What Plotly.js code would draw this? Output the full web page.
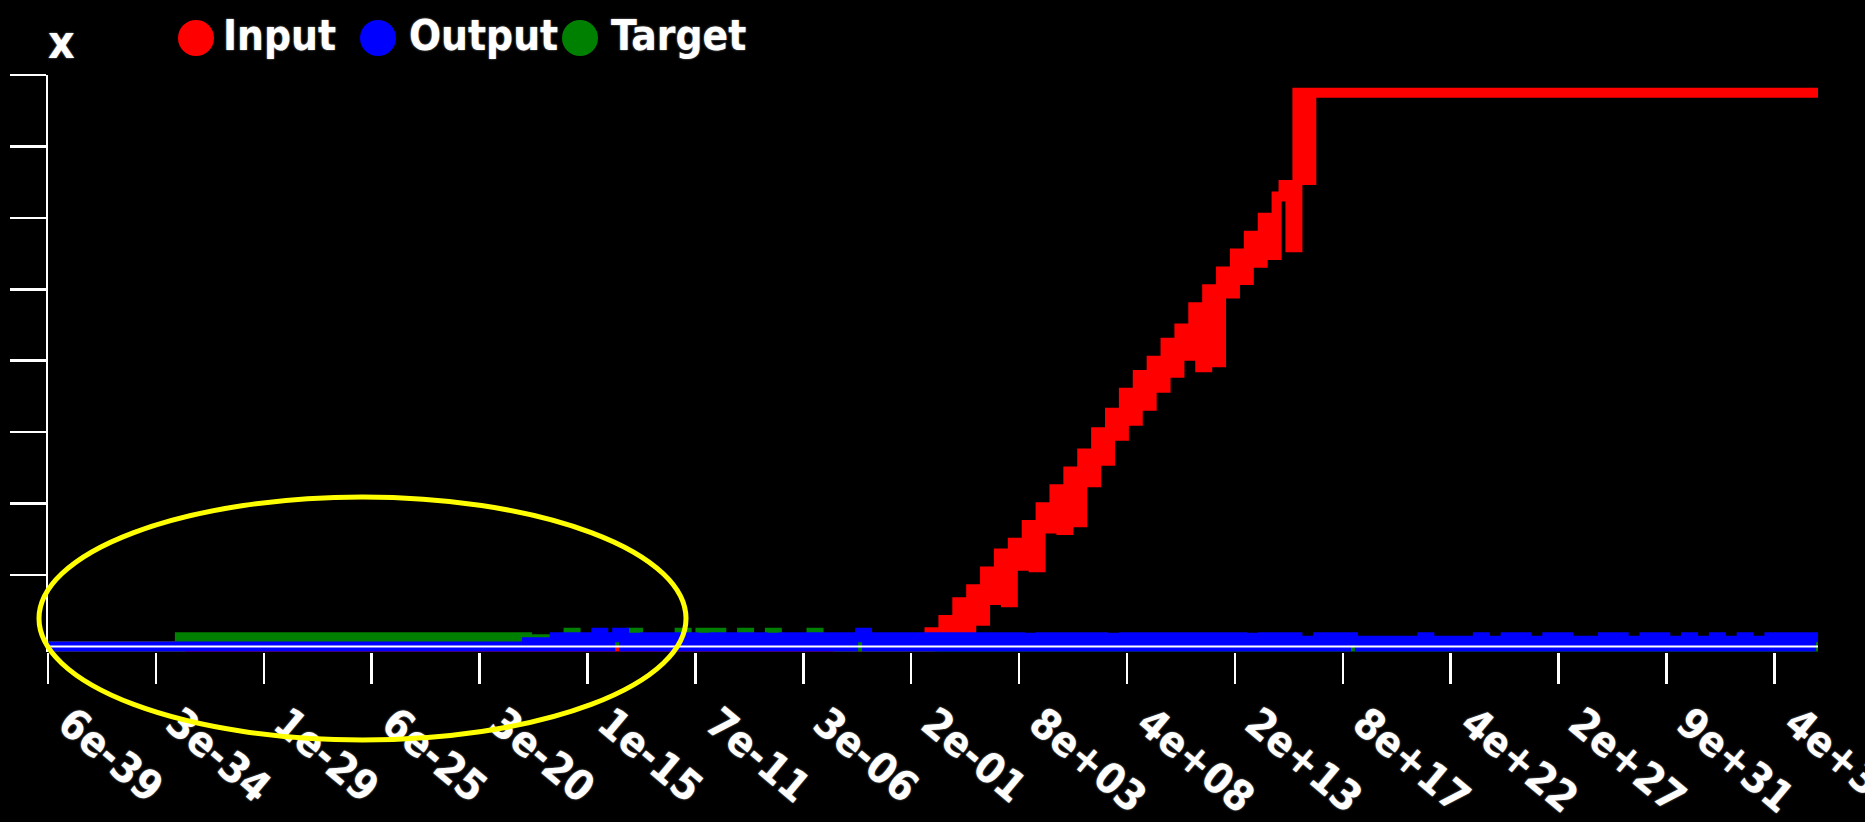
<!DOCTYPE html>
<html><head><meta charset="utf-8">
<script src="https://cdn.plot.ly/plotly-3.0.1.min.js"></script>
<style>html,body{margin:0;padding:0;background:#000;overflow:hidden}#chart{width:1865px;height:822px}</style>
</head><body><div id="chart"></div>
<script>
// ---- bins are float exponents: each point sits at x = 2^exp (log axis) ----
function range(a, b) { var r = []; for (var i = a; i <= b; i++) r.push(i); return r; }

// x-axis ticks (log scale)
var tickVals = [5.877e-39, 2.811e-34, 1.344e-29, 6.425e-25, 3.072e-20, 1.468e-15, 7.02e-11, 3.357e-6,
                0.1605, 7672, 3.667e8, 1.753e13, 8.383e17, 4.008e22, 1.916e27, 9.163e31, 4.38e36];
var tickText = ['6e-39','3e-34','1e-29','6e-25','3e-20','1e-15','7e-11','3e-06',
                '2e-01','8e+03','4e+08','2e+13','8e+17','4e+22','2e+27','9e+31','4e+36'];
var yTickVals = [1, 2, 3, 4, 5, 6, 7, 8];

// Input (red)
var inputExp = [-127].concat(range(0, 55)).concat([128]);
var inputVal = [0,
  0.20, 0.03, 0.37, 0.10, 0.62, 0.20, 0.80, 0.36, 1.05, 0.65,   // 0..9
  1.30, 0.62, 1.45, 1.13, 1.70, 1.11, 1.95, 1.65, 2.20, 1.63,   // 10..19
  2.45, 1.74, 2.70, 2.30, 3.00, 2.60, 3.27, 2.95, 3.55, 3.16,   // 20..29
  3.80, 3.37, 4.00, 3.62, 4.25, 3.83, 4.45, 4.07, 4.75, 3.91,   // 30..39
  5.00, 3.98, 5.25, 4.94, 5.50, 5.13, 5.75, 5.37, 6.00, 5.48,   // 40..49
  6.30, 6.46, 5.59, 7.75, 6.53, 7.75,                           // 50..55
  7.75];

// Output (blue)
var outputExp = [-127].concat(range(-58, 128));
var outputVal = [0,
  0.06, 0, 0.06, 0, 0.13, 0, 0.13, 0, 0.13, 0,          // -58..-49
  0.19, 0, 0.13, 0.19, 0, 0.12, 0, 0.13, 0, 0.13,       // -48..-39
  0, 0.13, 0, 0.13, 0, 0.12, 0, 0.13, 0, 0.13,          // -38..-29
  0, 0.13, 0, 0.13, 0, 0.12, 0, 0.13, 0, 0.13,          // -28..-19
  0, 0.13, 0, 0.13, 0, 0.13, 0, 0.13, 0.19, 0,          // -18..-9
  0.13, 0, 0.13, 0, 0.13, 0, 0.13, 0, 0.13, 0,          // -8..1
  0.13, 0, 0.13, 0, 0.13, 0, 0.13, 0, 0.13, 0,          // 2..11
  0.13, 0, 0.12, 0, 0.13, 0, 0.13, 0, 0.13, 0,          // 12..21
  0.13, 0, 0.13, 0, 0.12, 0, 0.13, 0, 0.13, 0,          // 22..31
  0.13, 0, 0.13, 0, 0.13, 0, 0.13, 0, 0.13, 0,          // 32..41
  0.13, 0, 0.13, 0, 0.12, 0, 0.13, 0, 0.13, 0,          // 42..51
  0.13, 0, 0.08, 0, 0.13, 0, 0.13, 0, 0.13, 0.08,       // 52..61
  0, 0.08, 0, 0.08, 0, 0.08, 0, 0.08, 0, 0.13,          // 62..71
  0, 0.08, 0, 0.08, 0, 0.08, 0, 0.13, 0, 0.08,          // 72..81
  0, 0.13, 0, 0.13, 0, 0.08, 0, 0.13, 0, 0.13,          // 82..91
  0, 0.08, 0, 0.08, 0, 0.13, 0, 0.13, 0, 0.08,          // 92..101
  0, 0.13, 0, 0.13, 0, 0.08, 0, 0.13, 0, 0.08,          // 102..111
  0, 0.13, 0, 0.08, 0, 0.13, 0, 0.08, 0, 0.13,          // 112..121
  0, 0.13, 0, 0.13, 0, 0.13, 0.13];                     // 122..128

// Target (green)
var targetExp = [-127, -108, -104, -103, -92, -91, -87, -86].concat(range(-58, -13)).concat([128]);
var targetVal = [0, 0.13, 0.115, 0.13, 0.115, 0.13, 0.115, 0.13,
  0.10, 0.10, 0.10, 0.10, 0.08, 0.08, 0.19, 0.08, 0.08, 0.08,   // -58..-49
  0.08, 0.08, 0.08, 0.08, 0.08, 0.19, 0.08, 0.08, 0.08, 0.08,   // -48..-39
  0.08, 0.08, 0.19, 0.08, 0.08, 0.19, 0.08, 0.19, 0.08, 0.08,   // -38..-29
  0.08, 0.19, 0.08, 0.08, 0.08, 0.19, 0.08, 0.08, 0.08, 0.08,   // -28..-19
  0.08, 0.19, 0.08, 0.08, 0.08, 0,                              // -18..-13
  0];

var seriesNames = ['Input', 'Output', 'Target'];
var seriesColors = ['#ff0000', '#0000ff', '#008000'];

function toX(exps) { return exps.map(function (e) { return Math.pow(2, e); }); }

var lineStyle = function (c) { return { color: c, width: 10, shape: 'hv' }; };
var traces = [
  { x: toX(inputExp), y: inputVal, name: seriesNames[0], mode: 'lines', line: lineStyle(seriesColors[0]), showlegend: false, hoverinfo: 'skip' },
  { x: toX(targetExp), y: targetVal, name: seriesNames[2], mode: 'lines', line: lineStyle(seriesColors[2]), showlegend: false, hoverinfo: 'skip' },
  { x: toX(outputExp), y: outputVal, name: seriesNames[1], mode: 'lines', line: lineStyle(seriesColors[1]), showlegend: false, hoverinfo: 'skip' }
];

var W = 1865, H = 822, L = 48, R = 47, T = 75, B = 170;
var pw = W - L - R, ph = H - T - B;
function px2x(px) { return (px - L) / pw; }
function py2y(py) { return (H - B - py) / ph; }

var FAM = 'DejaVu Sans Condensed, DejaVu Sans, sans-serif';
var txtFont = { family: FAM, size: 42, color: '#ffffff', weight: 'bold', shadow: '0px 0px 2px #9a9a9a' };
var tickFont = { family: FAM, size: 42, color: '#ffffff', weight: 'bold', shadow: '0px 0px 2px #9a9a9a' };
var titleFont = { family: FAM, size: 46, color: '#ffffff', weight: 'bold', shadow: '0px 0px 2px #9a9a9a' };

var legendX = [196, 378, 580];
var legendTextX = [222, 408, 610];
var shapes = [
  { type: 'line', xref: 'paper', x0: 0, x1: 1, yref: 'y', y0: 0, y1: 0, line: { color: '#ffffff', width: 2 }, layer: 'above' },
  { type: 'circle', xref: 'paper', yref: 'paper', x0: px2x(39), x1: px2x(686), y0: py2y(740), y1: py2y(497),
    line: { color: '#ffff00', width: 5 }, fillcolor: 'rgba(0,0,0,0)', layer: 'above' }
];
var annotations = [
  { xref: 'paper', yref: 'paper', x: px2x(61), y: py2y(42), xanchor: 'center', yanchor: 'middle', text: 'x',
    showarrow: false, font: titleFont, borderpad: 0 }
];
for (var i = 0; i < 3; i++) {
  shapes.push({ type: 'circle', xref: 'paper', yref: 'paper', xsizemode: 'pixel', ysizemode: 'pixel',
    xanchor: px2x(legendX[i]), yanchor: py2y(38), x0: -18, x1: 18, y0: -18, y1: 18,
    fillcolor: seriesColors[i], line: { width: 0 }, layer: 'above' });
  annotations.push({ xref: 'paper', yref: 'paper', x: px2x(legendTextX[i]), y: py2y(36), xanchor: 'left', yanchor: 'middle',
    text: seriesNames[i], showarrow: false, font: txtFont, borderpad: 0 });
}

var layout = {
  width: W, height: H,
  margin: { l: L, r: R, t: T, b: B, pad: 0 },
  paper_bgcolor: '#000000', plot_bgcolor: '#000000',
  showlegend: false,
  xaxis: {
    type: 'log', range: [Math.log10(Math.pow(2, -127)), Math.log10(Math.pow(2, 128))],
    tickmode: 'array', tickvals: tickVals, ticktext: tickText, tickangle: 40,
    ticks: 'outside', ticklen: 31, tickwidth: 2.5, tickcolor: '#ffffff',
    ticklabelshift: 21, ticklabelstandoff: -2, ticklabeloverflow: 'allow',
    showline: false, showgrid: false, zeroline: false, automargin: false,
    tickfont: tickFont
  },
  yaxis: {
    range: [-0.078, 8.0], tickmode: 'array', tickvals: yTickVals, showticklabels: false,
    ticks: 'outside', ticklen: 36, tickwidth: 2.5, tickcolor: '#ffffff',
    showline: true, linecolor: '#ffffff', linewidth: 2.5, showgrid: false, zeroline: false
  },
  shapes: shapes,
  annotations: annotations
};

Plotly.newPlot('chart', traces, layout, { staticPlot: true, displayModeBar: false });
</script></body></html>
